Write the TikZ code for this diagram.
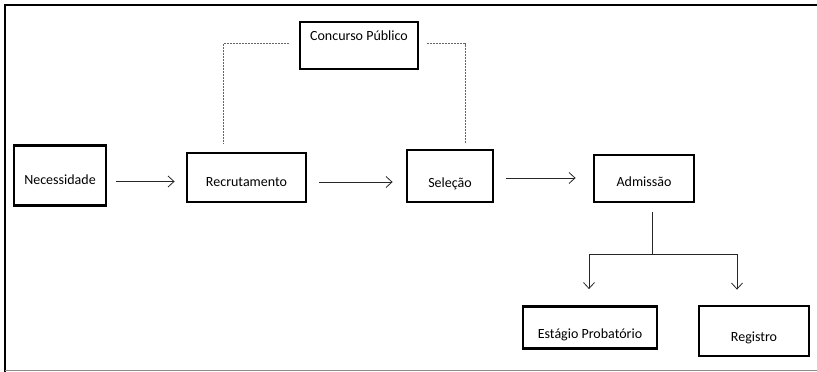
\documentclass[tikz,border=0pt]{standalone}
\usepackage{fontspec}
\setmainfont{Carlito}
\usetikzlibrary{arrows.meta}
\begin{document}
\begin{tikzpicture}[x=1pt,y=-1pt,
  box/.style={draw=black, line width=2.8pt, inner sep=0pt, text depth=0pt, font=\fontsize{14}{16}\selectfont},
  conn/.style={draw=black!85, line width=0.8pt},
  arr/.style={conn, -{Straight Barb[length=6pt,width=11pt,line width=0.8pt]}},
  dashln/.style={draw=black!60, line width=0.9pt, dash pattern=on 2pt off 1pt}]
\useasboundingbox (0,0) rectangle (817,372);
% frame
\draw[line width=2.6pt, black] (4,5) -- (817,5);
\draw[line width=2.6pt, black] (5,5) -- (5,372);
\draw[line width=1.2pt, black!45] (5,370.5) -- (817,370.5);
% boxes
\node[box, minimum width=92, minimum height=60, text height=18pt] (nec) at (60,175.5) {Necessidade};
\node[box, minimum width=119, minimum height=49, text height=18pt] (rec) at (246.5,177.5) {Recrutamento};
\node[box, minimum width=86, minimum height=52, text height=23pt] (sel) at (450,176) {Seleção};
\node[box, minimum width=100, minimum height=47, text height=16pt] (adm) at (644,178.5) {Admissão};
\node[box, minimum width=118, minimum height=47, text height=10pt, text depth=21pt] (cp) at (359,45.5) {Concurso Público};
\node[box, minimum width=134, minimum height=42, text height=22pt] (est) at (590,327.5) {Estágio Probatório};
\node[box, minimum width=110, minimum height=50, text height=21pt] (reg) at (754,331) {Registro};
% main arrows
\draw[arr] ([xshift=9pt,yshift=-6pt]nec.east) -- ([xshift=-11pt,yshift=-6pt]nec.east -| rec.west);
\draw[arr] ([xshift=12pt,yshift=-4.5pt]rec.east) -- ([xshift=-13pt,yshift=-4.5pt]rec.east -| sel.west);
\draw[arr] ([xshift=12pt,yshift=-2pt]sel.east) -- ([xshift=-17pt,yshift=-2pt]sel.east -| adm.west);
% dashed links to Concurso Público
\coordinate (dl) at (223,143);
\coordinate (dr) at (465,143);
\draw[dashln] ([xshift=-10pt,yshift=2pt]cp.west) -| (dl);
\draw[dashln] ([xshift=8pt,yshift=2pt]cp.east) -| (dr);
% tree below Admissão
\draw[conn] ([xshift=8pt,yshift=-9pt]adm.south) -- ++(0,42) coordinate (j);
\draw[arr] (j) -| ([xshift=-1pt,yshift=16pt]est.north);
\draw[arr] (j) -| ([xshift=-17pt,yshift=15pt]reg.north);
\end{tikzpicture}
\end{document}
